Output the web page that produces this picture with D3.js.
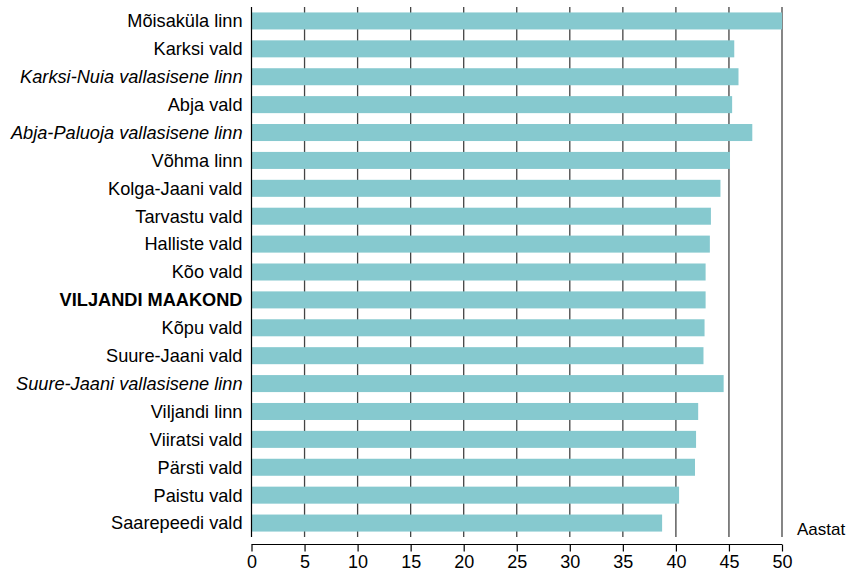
<!DOCTYPE html>
<html><head><meta charset="utf-8">
<script src="https://cdn.jsdelivr.net/npm/d3@7"></script>
<style>body{margin:0;background:#fff}svg{display:block}</style>
</head><body>
<svg id="c" width="849" height="574"></svg>
<script>
const categories = ["Mõisaküla linn","Karksi vald","Karksi-Nuia vallasisene linn","Abja vald","Abja-Paluoja vallasisene linn","Võhma linn","Kolga-Jaani vald","Tarvastu vald","Halliste vald","Kõo vald","VILJANDI MAAKOND","Kõpu vald","Suure-Jaani vald","Suure-Jaani vallasisene linn","Viljandi linn","Viiratsi vald","Pärsti vald","Paistu vald","Saarepeedi vald"];
const values = [50.0,45.5,45.9,45.3,47.2,45.1,44.2,43.3,43.2,42.8,42.8,42.7,42.6,44.5,42.1,41.9,41.8,40.3,38.7];
const italicCats = ["Karksi-Nuia vallasisene linn","Abja-Paluoja vallasisene linn","Suure-Jaani vallasisene linn"];
const boldCats = ["VILJANDI MAAKOND"];
const xTicks = [0,5,10,15,20,25,30,35,40,45,50];
const unitLabel = "Aastat";

const svg = d3.select("#c");
const font = "'Liberation Sans', Arial, sans-serif";
const x = d3.scaleLinear().domain([0,50]).range([251.5,782]);
const y = d3.scaleBand().domain(categories).range([7,537]).paddingInner(0.39).paddingOuter(0.195);

// gridlines (behind bars)
svg.append("g").selectAll("line").data(xTicks.filter(t=>t>0)).join("line")
  .attr("x1", d=>x(d)).attr("x2", d=>x(d)).attr("y1",7).attr("y2",537)
  .attr("stroke","#444").attr("stroke-width",1.3);

// bars
svg.append("g").selectAll("rect").data(categories).join("rect")
  .attr("x", x(0)).attr("y", d=>y(d))
  .attr("width", (d,i)=>x(values[i])-x(0)).attr("height", y.bandwidth())
  .attr("fill","#86c9cf");

// y axis line
svg.append("line").attr("x1",x(0)).attr("x2",x(0)).attr("y1",7).attr("y2",537)
  .attr("stroke","#000").attr("stroke-width",1.2);

// category labels
svg.append("g").selectAll("text").data(categories).join("text")
  .attr("x",242.5).attr("y", d=>y(d)+y.bandwidth()/2).attr("dy","0.35em")
  .attr("text-anchor","end").attr("font-family",font).attr("font-size",18.2)
  .attr("font-style", d=>italicCats.includes(d)?"italic":"normal")
  .attr("font-weight", d=>boldCats.includes(d)?"bold":"normal")
  .attr("fill","#000").text(d=>d);

// x axis
const xAxis = d3.axisBottom(x).tickValues(xTicks).tickSize(7).tickPadding(4).tickFormat(d3.format("d"));
const gx = svg.append("g").attr("transform","translate(0,544.5)").call(xAxis);
gx.select(".domain").attr("stroke","#000").attr("stroke-width",1.2).attr("d",`M${x(0)},0H${x(50)}`);
gx.selectAll(".tick line").attr("stroke","#000").attr("stroke-width",1.2);
gx.selectAll(".tick text").attr("font-family",font).attr("font-size",18).attr("fill","#000");

svg.append("text").attr("x",797).attr("y",535).attr("font-family",font).attr("font-size",17)
  .attr("fill","#000").text(unitLabel);
</script>
</body></html>
